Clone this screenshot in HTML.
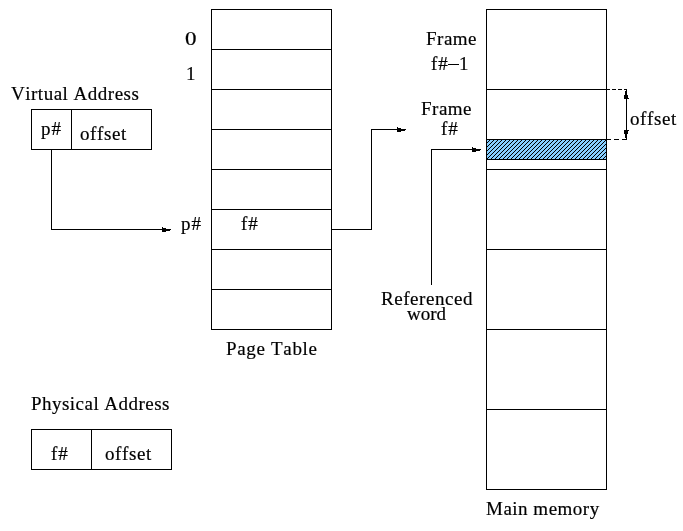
<!DOCTYPE html>
<html><head><meta charset="utf-8"><style>
html,body{margin:0;padding:0;background:#fff;width:683px;height:531px;overflow:hidden}
svg{display:block;will-change:transform}
text{font-kerning:none;font-family:"Liberation Serif",serif;font-size:19.0px;fill:#000;stroke:#000;stroke-width:0.2px;}
</style></head><body>
<svg width="683" height="531" viewBox="0 0 683 531">
<defs>
<pattern id="hatch" x="0" y="0" width="4" height="4" patternUnits="userSpaceOnUse">
<rect width="4" height="4" fill="#87ceff"/>
<rect x="1" y="0" width="1" height="1" fill="#000"/>
<rect x="0" y="1" width="1" height="1" fill="#000"/>
<rect x="3" y="2" width="1" height="1" fill="#000"/>
<rect x="2" y="3" width="1" height="1" fill="#000"/>
</pattern>
</defs>
<rect x="487" y="140" width="119" height="19" fill="url(#hatch)"/>
<g fill="#000" shape-rendering="crispEdges">
<rect x="211" y="9" width="121" height="1"/>
<rect x="211" y="49" width="121" height="1"/>
<rect x="211" y="89" width="121" height="1"/>
<rect x="211" y="129" width="121" height="1"/>
<rect x="211" y="169" width="121" height="1"/>
<rect x="211" y="209" width="121" height="1"/>
<rect x="211" y="249" width="121" height="1"/>
<rect x="211" y="289" width="121" height="1"/>
<rect x="211" y="329" width="121" height="1"/>
<rect x="211" y="9" width="1" height="321"/>
<rect x="331" y="9" width="1" height="321"/>
<rect x="486" y="9" width="121" height="1"/>
<rect x="486" y="89" width="121" height="1"/>
<rect x="486" y="139" width="121" height="1"/>
<rect x="486" y="159" width="121" height="1"/>
<rect x="486" y="169" width="121" height="1"/>
<rect x="486" y="249" width="121" height="1"/>
<rect x="486" y="329" width="121" height="1"/>
<rect x="486" y="409" width="121" height="1"/>
<rect x="486" y="489" width="121" height="1"/>
<rect x="486" y="9" width="1" height="481"/>
<rect x="606" y="9" width="1" height="481"/>
<rect x="31" y="109" width="121" height="1"/>
<rect x="31" y="149" width="121" height="1"/>
<rect x="31" y="109" width="1" height="41"/>
<rect x="151" y="109" width="1" height="41"/>
<rect x="71" y="109" width="1" height="41"/>
<rect x="31" y="429" width="141" height="1"/>
<rect x="31" y="469" width="141" height="1"/>
<rect x="31" y="429" width="1" height="41"/>
<rect x="171" y="429" width="1" height="41"/>
<rect x="91" y="429" width="1" height="41"/>
<rect x="51" y="149" width="1" height="81"/>
<rect x="51" y="229" width="112" height="1"/>
<rect x="162" y="227" width="1" height="5"/><rect x="163" y="228" width="3" height="4"/><rect x="166" y="229" width="4" height="2"/><rect x="170" y="229" width="1" height="1"/>
<rect x="331" y="229" width="41" height="1"/>
<rect x="371" y="129" width="1" height="101"/>
<rect x="371" y="129" width="27" height="1"/>
<rect x="397" y="127" width="1" height="5"/><rect x="398" y="128" width="3" height="4"/><rect x="401" y="129" width="4" height="2"/><rect x="405" y="129" width="1" height="1"/>
<rect x="431" y="149" width="1" height="136"/>
<rect x="431" y="149" width="42" height="1"/>
<rect x="472" y="147" width="1" height="5"/><rect x="473" y="148" width="3" height="4"/><rect x="476" y="149" width="4" height="2"/><rect x="480" y="149" width="1" height="1"/>
<rect x="607" y="89" width="3" height="1"/>
<rect x="612" y="89" width="4" height="1"/>
<rect x="618" y="89" width="4" height="1"/>
<rect x="624" y="89" width="3" height="1"/>
<rect x="607" y="139" width="4" height="1"/>
<rect x="614" y="139" width="5" height="1"/>
<rect x="622" y="139" width="5" height="1"/>
<rect x="626" y="98" width="1" height="33"/>
<rect x="626" y="90" width="1" height="1"/>
<rect x="625" y="91" width="2" height="4"/>
<rect x="624" y="95" width="4" height="3"/>
<rect x="624" y="98" width="5" height="1"/>
<rect x="624" y="130" width="5" height="1"/>
<rect x="624" y="131" width="4" height="3"/>
<rect x="625" y="134" width="2" height="4"/>
<rect x="626" y="138" width="1" height="1"/>
<rect x="448" y="64" width="11" height="1"/>
</g>
<g>
<text x="185.00" y="45" textLength="11.50" lengthAdjust="spacingAndGlyphs">0</text>
<text x="186.00" y="80">1</text>
<text x="11.00" y="100" textLength="127.91" lengthAdjust="spacing">Virtual Address</text>
<text x="41.00" y="135" textLength="20.00" lengthAdjust="spacing">p#</text>
<text x="80.00" y="140" textLength="46.28" lengthAdjust="spacing">offset</text>
<text x="181.00" y="230" textLength="20.00" lengthAdjust="spacing">p#</text>
<text x="241.00" y="230" textLength="16.83" lengthAdjust="spacing">f#</text>
<text x="426.00" y="45" textLength="50.56" lengthAdjust="spacing">Frame</text>
<text x="431.00" y="70" textLength="16.83" lengthAdjust="spacing">f#</text>
<text x="459.00" y="70">1</text>
<text x="421.00" y="115" textLength="50.56" lengthAdjust="spacing">Frame</text>
<text x="441.00" y="135" textLength="16.83" lengthAdjust="spacing">f#</text>
<text x="630.00" y="125" textLength="46.28" lengthAdjust="spacing">offset</text>
<text x="381.00" y="305" textLength="91.53" lengthAdjust="spacing">Referenced</text>
<text x="407.00" y="320" textLength="39.06" lengthAdjust="spacing">word</text>
<text x="226.00" y="355" textLength="90.97" lengthAdjust="spacing">Page Table</text>
<text x="31.00" y="410" textLength="138.48" lengthAdjust="spacing">Physical Address</text>
<text x="51.00" y="460" textLength="16.83" lengthAdjust="spacing">f#</text>
<text x="105.00" y="460" textLength="46.28" lengthAdjust="spacing">offset</text>
<text x="486.00" y="515" textLength="113.20" lengthAdjust="spacing">Main memory</text>
</g>
</svg>
</body></html>
